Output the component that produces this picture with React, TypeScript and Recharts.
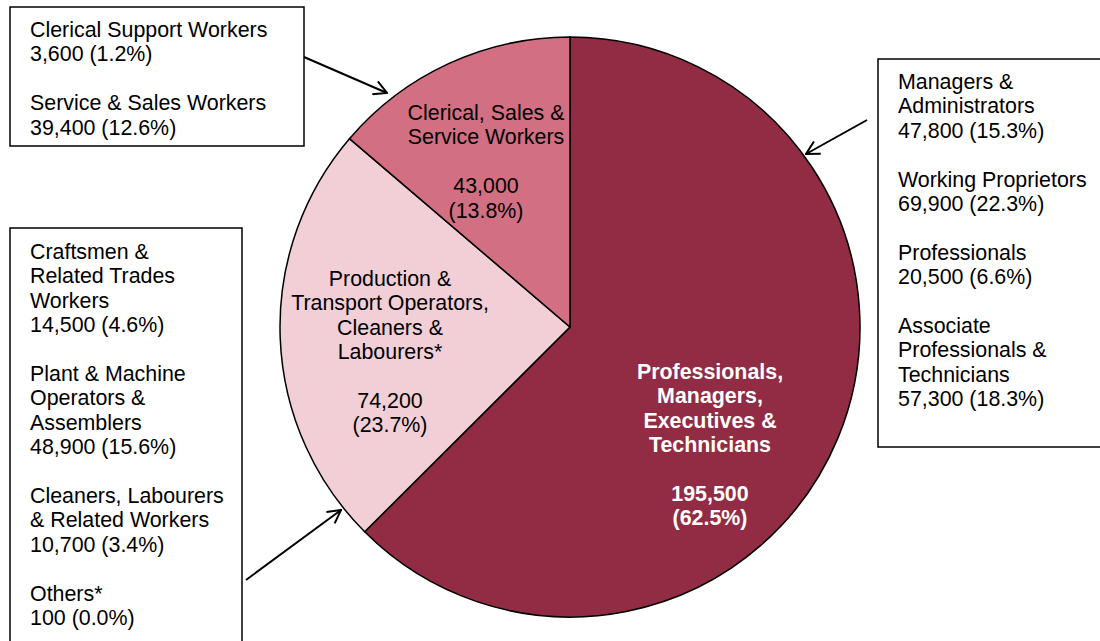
import React from "react";
import { PieChart, Pie, Cell } from "recharts";

const groups = [
  "Professionals, Managers, Executives & Technicians",
  "Production & Transport Operators, Cleaners & Labourers*",
  "Clerical, Sales & Service Workers",
];
const groupValues = [195500, 74200, 43000];
const groupShares = ["62.5%", "23.7%", "13.8%"];
const groupLabelLines = [
  ["Professionals,", "Managers,", "Executives &", "Technicians"],
  ["Production &", "Transport Operators,", "Cleaners &", "Labourers*"],
  ["Clerical, Sales &", "Service Workers"],
];
const colors = ["#922C45", "#F2CED6", "#D26F82"];

const clericalNotes = [
  ["Clerical Support Workers", "3,600 (1.2%)"],
  ["Service & Sales Workers", "39,400 (12.6%)"],
];
const productionNotes = [
  ["Craftsmen &", "Related Trades", "Workers", "14,500 (4.6%)"],
  ["Plant & Machine", "Operators &", "Assemblers", "48,900 (15.6%)"],
  ["Cleaners, Labourers", "& Related Workers", "10,700 (3.4%)"],
  ["Others*", "100 (0.0%)"],
];
const professionalNotes = [
  ["Managers &", "Administrators", "47,800 (15.3%)"],
  ["Working Proprietors", "69,900 (22.3%)"],
  ["Professionals", "20,500 (6.6%)"],
  ["Associate", "Professionals &", "Technicians", "57,300 (18.3%)"],
];

const data = groups.map((name, i) => ({ name, value: groupValues[i] }));

const FONT = "'Liberation Sans', Arial, sans-serif";
const FS = 21.4;
const LH = 24.4;

// label placement relative to pie centre: [dx, first baseline dy]
const labelPos = [
  [140, 52],
  [-180, -41],
  [-84, -207],
];

function paragraphLines(paras: string[][]) {
  const out: string[] = [];
  paras.forEach((p, i) => {
    if (i > 0) out.push("");
    out.push(...p);
  });
  return out;
}

function TextBlock({ x, y, lines, anchor = "start", fill = "#000", bold = false }: any) {
  return (
    <text x={x} y={y} fontFamily={FONT} fontSize={FS} fill={fill} textAnchor={anchor} fontWeight={bold ? "bold" : "normal"}>
      {lines.map((l: string, i: number) => (
        <tspan key={i} x={x} y={y + i * LH}>
          {l}
        </tspan>
      ))}
    </text>
  );
}

function renderLabel(props: any) {
  const { cx, cy, index } = props;
  const [dx, dy] = labelPos[index];
  const value = groupValues[index].toLocaleString("en-US");
  const lines = [...groupLabelLines[index], "", value, `(${groupShares[index]})`];
  return (
    <TextBlock
      x={cx + dx}
      y={cy + dy}
      lines={lines}
      anchor="middle"
      fill={index === 0 ? "#fff" : "#000"}
      bold={index === 0}
    />
  );
}

function App() {
  return (
    <div style={{ position: "absolute", left: 0, top: 0, width: 1100, height: 641, background: "#fff", overflow: "hidden" }}>
      <PieChart width={1100} height={641} margin={{ top: 0, right: 0, bottom: 0, left: 0 }}>
        <Pie
          data={data}
          dataKey="value"
          nameKey="name"
          cx={570}
          cy={327}
          outerRadius={290}
          startAngle={90}
          endAngle={-270}
          stroke="#000"
          strokeWidth={1.5}
          label={renderLabel}
          labelLine={false}
          isAnimationActive={false}
        >
          {data.map((d, i) => (
            <Cell key={d.name} fill={colors[i]} />
          ))}
        </Pie>
      </PieChart>
      <svg width={1100} height={641} style={{ position: "absolute", left: 0, top: 0, pointerEvents: "none" }}>
        <defs>
          <marker id="arr" viewBox="0 0 16 16" refX={15} refY={8} markerWidth={16} markerHeight={16} markerUnits="userSpaceOnUse" orient="auto">
            <path d="M2,1 L15,8 L2,15" fill="none" stroke="#000" strokeWidth={2} />
          </marker>
        </defs>
        <rect x={10} y={7} width={294} height={139} fill="#fff" stroke="#000" strokeWidth={1.5} />
        <rect x={10} y={228} width={232} height={430} fill="#fff" stroke="#000" strokeWidth={1.5} />
        <rect x={878} y={59} width={240} height={388} fill="#fff" stroke="#000" strokeWidth={1.5} />
        <TextBlock x={30} y={37} lines={paragraphLines(clericalNotes)} />
        <TextBlock x={30} y={259} lines={paragraphLines(productionNotes)} />
        <TextBlock x={898} y={89} lines={paragraphLines(professionalNotes)} />
        <line x1={304} y1={57} x2={387} y2={93} stroke="#000" strokeWidth={2} markerEnd="url(#arr)" />
        <line x1={867} y1={120} x2={806} y2={154} stroke="#000" strokeWidth={2} markerEnd="url(#arr)" />
        <line x1={246} y1={580} x2={341} y2={510} stroke="#000" strokeWidth={2} markerEnd="url(#arr)" />
      </svg>
    </div>
  );
}

export default App;
